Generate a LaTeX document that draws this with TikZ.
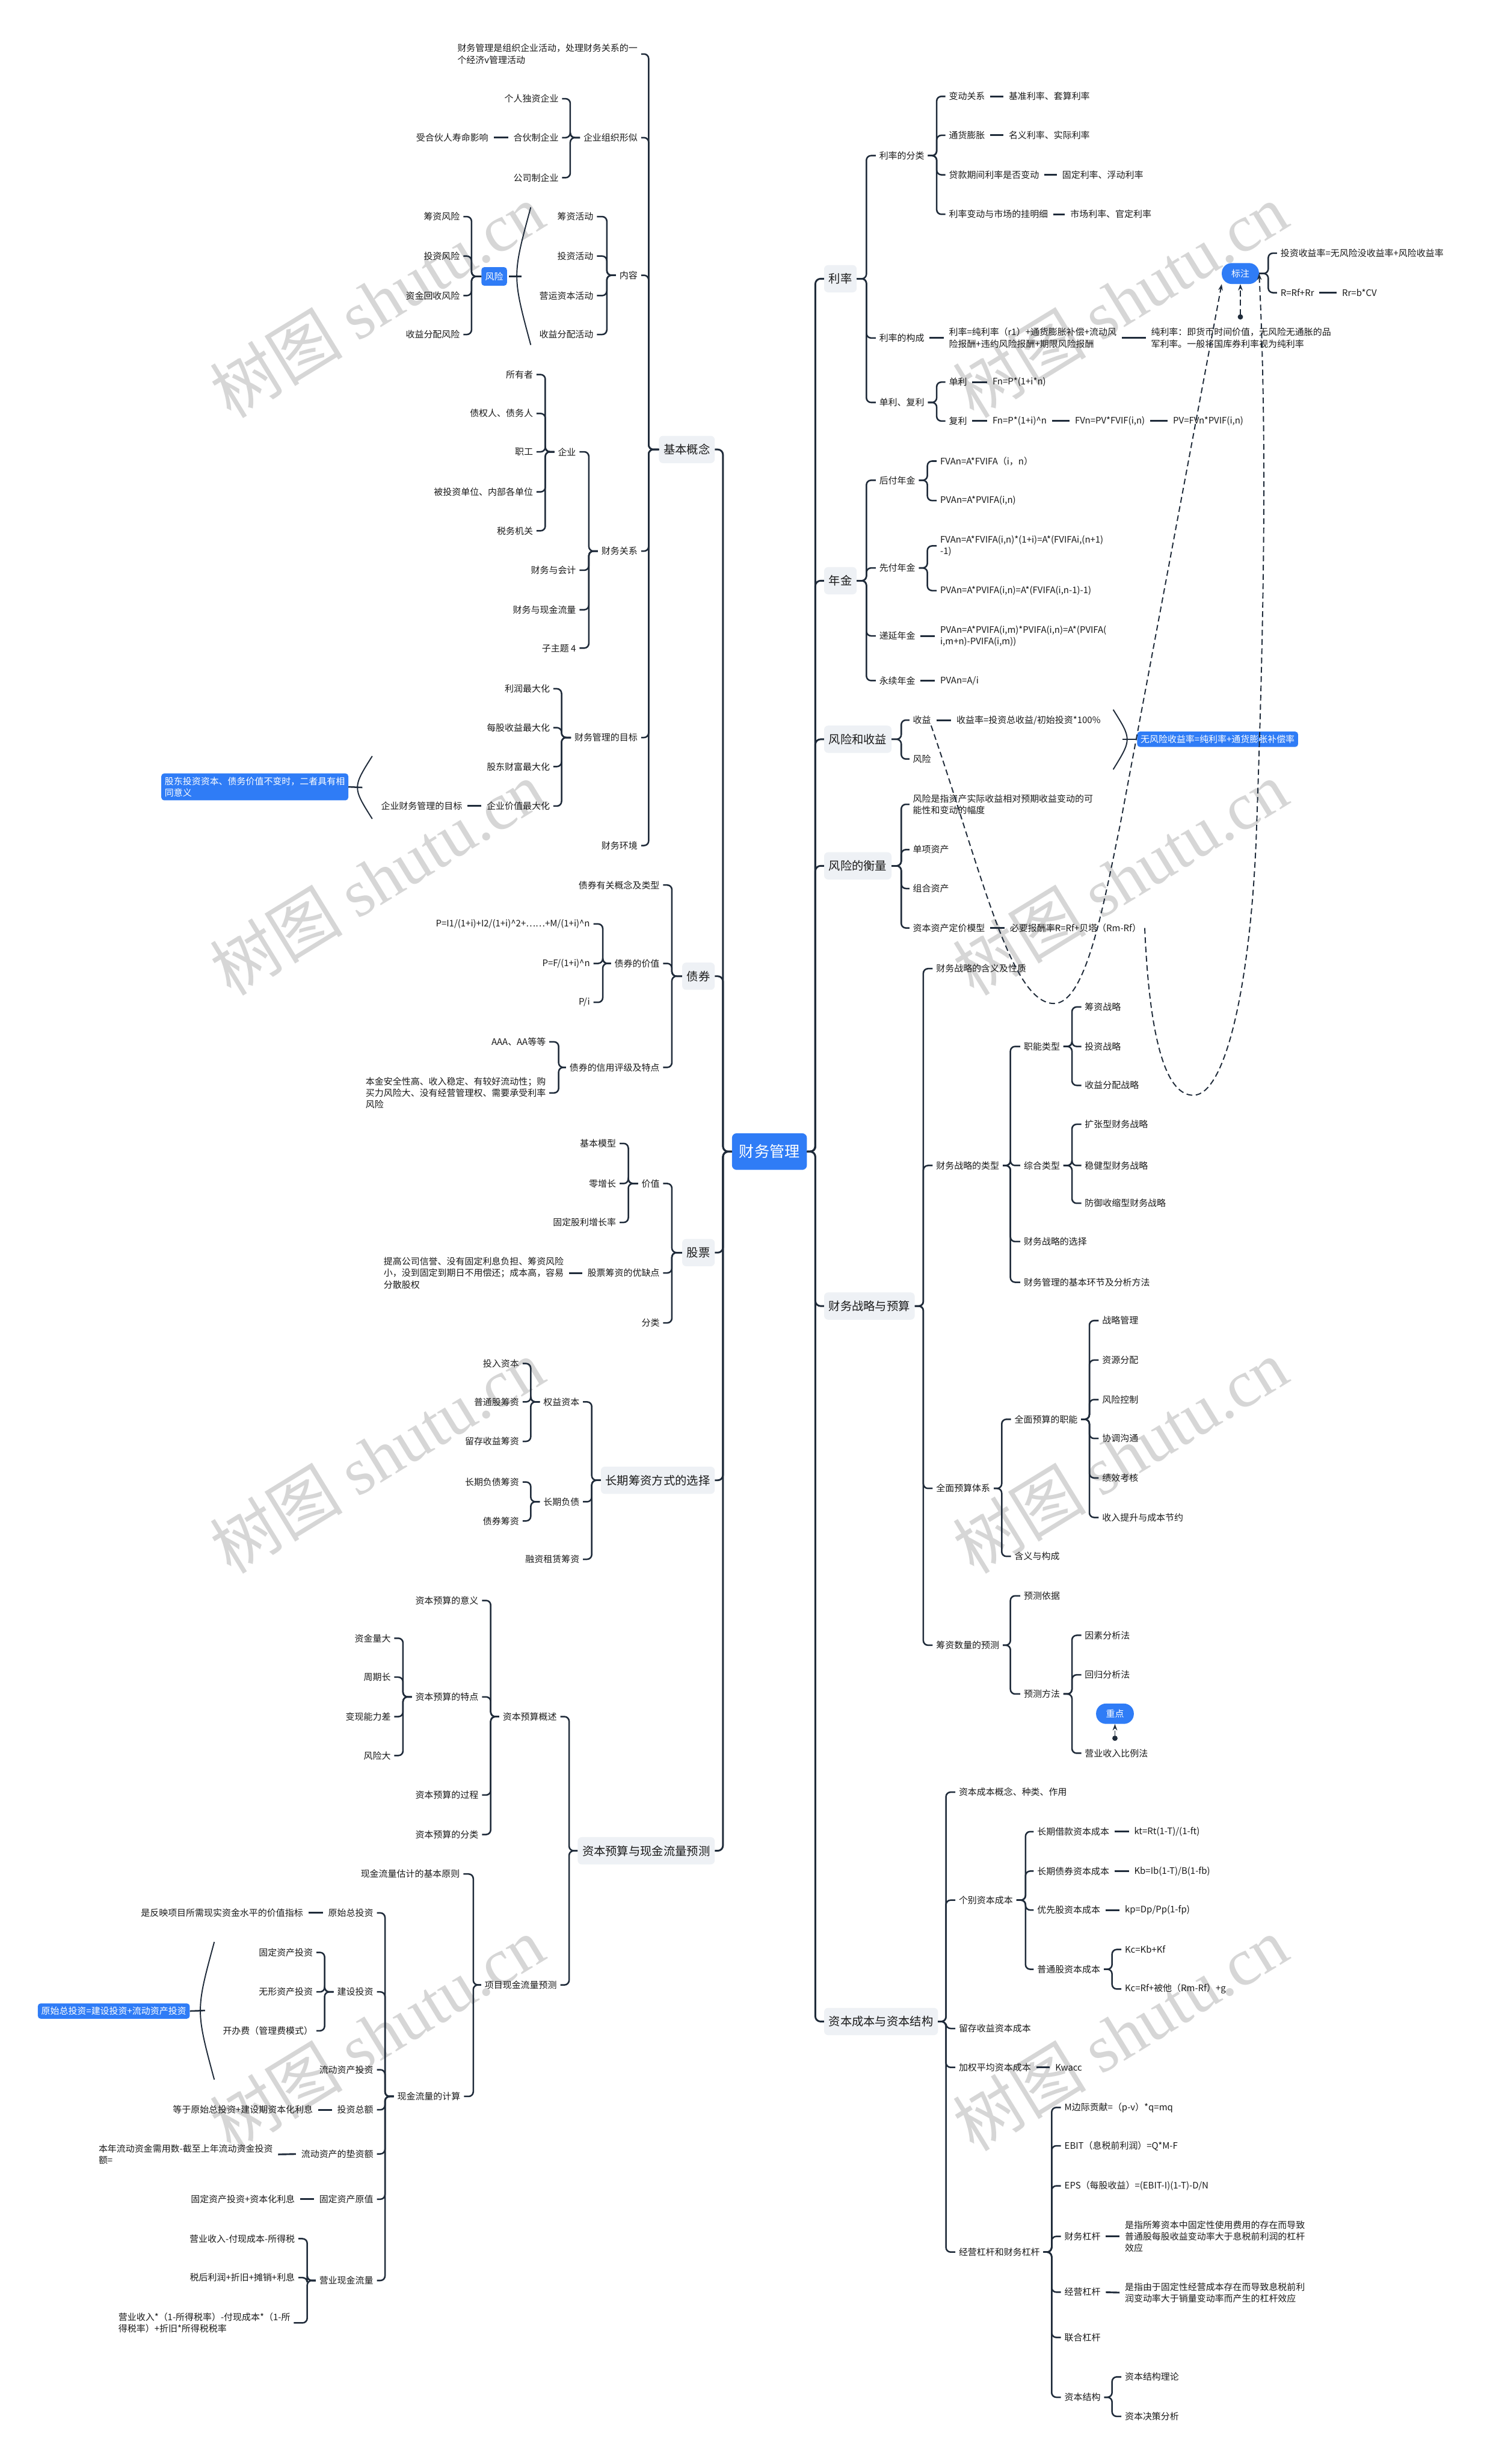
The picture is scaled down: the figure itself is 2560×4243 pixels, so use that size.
\documentclass[tikz,border=0pt]{standalone}
\usepackage{fontspec}
\setmainfont{Noto Sans CJK SC}
\newfontfamily\wmserif{Liberation Serif}
\usetikzlibrary{arrows.meta}
\definecolor{lc}{HTML}{1F2B3A}
\definecolor{tx}{HTML}{1A1A1A}
\definecolor{bl}{HTML}{2F7CF6}
\definecolor{mbf}{HTML}{EEF1F5}
\definecolor{wmc}{HTML}{D6D6D6}
\newcommand\fs{\fontsize{15.5}{20}\selectfont}
\newcommand\fm{\fontsize{20}{24}\selectfont}
\newcommand\fr{\fontsize{26}{30}\selectfont}
\tikzset{
 txt/.style={font=\fs, text=tx, inner xsep=0pt, inner ysep=2pt, align=left},
 lnode/.style={txt, anchor=east},
 rnode/.style={txt, anchor=west},
 mbox/.style={fill=mbf, rounded corners=7pt, font=\fm, text=tx, minimum height=47pt, inner xsep=8pt, inner ysep=0pt},
 mleft/.style={mbox, anchor=east},
 mright/.style={mbox, anchor=west},
 rootbox/.style={fill=bl, text=white, font=\fr, rounded corners=8pt, minimum height=63pt, minimum width=129pt},
 bluebox/.style={fill=bl, text=white, font=\fs, rounded corners=5pt, inner xsep=6pt, inner ysep=6pt, align=left},
 pill/.style={fill=bl, text=white, font=\fs, rounded corners=17pt, minimum height=36pt, minimum width=64pt, inner sep=0pt},
 conn/.style={draw=lc, line width=2.6pt, rounded corners=8pt, shorten <=6pt, shorten >=6pt},
 mconn/.style={draw=lc, line width=3pt, rounded corners=9pt},
 dlink/.style={draw=lc, line width=3pt, shorten <=9pt, shorten >=9pt},
 brk/.style={draw=lc, line width=2pt},
 rel/.style={draw=lc, line width=2pt, dash pattern=on 10pt off 6pt},
 wm/.style={font=\fontsize{115}{115}\selectfont, text=wmc, rotate=31.5},
}
\newcommand\fanL[4][]{\foreach \c in {#4}{\draw[conn,#1] (#2.west) -- (#2.west -| #3) |- (\c.east);}}
\newcommand\fanR[4][]{\foreach \c in {#4}{\draw[conn,#1] (#2.east) -- (#2.east -| #3) |- (\c.west);}}
\begin{document}
\begin{tikzpicture}[x=1pt,y=-1pt]
\fill[white] (0,0) rectangle (2560,4243);
\useasboundingbox (0,0) rectangle (2560,4243);
% watermarks
\foreach \yy in {517,1512,2507,3502}{
 \node[wm] (wl\yy) at (649,\yy) {树图 {\wmserif shutu.cn}};
 \node[wm] (wr\yy) at (1929,\yy) {树图 {\wmserif shutu.cn}};
}
% root and main branches
\node[rootbox] (root) at (1325,1983) {财务管理};
\node[mleft] (A) at (1231,774) {基本概念};
\node[mleft] (Bq) at (1231,1681) {债券};
\node[mleft] (Gp) at (1231,2157) {股票};
\node[mleft] (Cz) at (1231,2549) {长期筹资方式的选择};
\node[mleft] (Ky) at (1231,3187) {资本预算与现金流量预测};
\node[mright] (Ll) at (1419,480) {利率};
\node[mright] (Nj) at (1419,1000) {年金};
\node[mright] (Fs) at (1419,1273) {风险和收益};
\node[mright] (Fh) at (1419,1491) {风险的衡量};
\node[mright] (Zl) at (1419,2249) {财务战略与预算};
\node[mright] (Zb) at (1419,3481) {资本成本与资本结构};
\coordinate (SL) at (1245,0);
\coordinate (SR) at (1404,0);
\foreach \m in {A,Bq,Gp,Cz,Ky}{\draw[mconn] (root.west) -- (root.west -| SL) |- (\m.east);}
\foreach \m in {Ll,Nj,Fs,Fh,Zl,Zb}{\draw[mconn] (root.east) -- (root.east -| SR) |- (\m.west);}

% ===== 基本概念 =====
\coordinate (bA) at (1117,0);
\node[lnode] (a1) at (1098,93) {财务管理是组织企业活动，处理财务关系的一\\个经济v管理活动};
\node[lnode] (a2) at (1098,237) {企业组织形似};
\node[lnode] (a3) at (1098,474) {内容};
\node[lnode] (a4) at (1098,949) {财务关系};
\node[lnode] (a5) at (1098,1270) {财务管理的目标};
\node[lnode] (a6) at (1098,1456) {财务环境};
\fanL[shorten <=0pt]{A}{bA}{a1,a2,a3,a4,a5,a6}
\coordinate (ba2) at (982,0);
\node[lnode] (a21) at (962,170) {个人独资企业};
\node[lnode] (a22) at (962,237) {合伙制企业};
\node[lnode] (a23) at (962,306) {公司制企业};
\node[lnode] (a221) at (841,237) {受合伙人寿命影响};
\fanL{a2}{ba2}{a21,a22,a23}
\draw[dlink] (a22.west) -- (a221.east);
\coordinate (ba3) at (1045,0);
\node[lnode] (a31) at (1022,373) {筹资活动};
\node[lnode] (a32) at (1022,441) {投资活动};
\node[lnode] (a33) at (1022,509) {营运资本活动};
\node[lnode] (a34) at (1022,576) {收益分配活动};
\fanL{a3}{ba3}{a31,a32,a33,a34}
\draw[brk] (914,357) .. controls (882,475) .. (914,594);
\coordinate (k1) at (898,476);
\node[bluebox, minimum width=44pt, minimum height=32pt, inner sep=0pt] (fx) at (851,476) {风险};
\draw[conn, shorten <=0pt, shorten >=3pt] (k1) -- (fx.east);
\coordinate (bfx) at (812,0);
\node[lnode] (r1) at (792,373) {筹资风险};
\node[lnode] (r2) at (792,441) {投资风险};
\node[lnode] (r3) at (792,509) {资金回收风险};
\node[lnode] (r4) at (792,576) {收益分配风险};
\fanL[shorten <=0pt]{fx}{bfx}{r1,r2,r3,r4}
\coordinate (ba4) at (1014,0);
\node[lnode] (a41) at (992,778) {企业};
\node[lnode] (a42) at (992,982) {财务与会计};
\node[lnode] (a43) at (992,1050) {财务与现金流量};
\node[lnode] (a44) at (992,1116) {子主题 4};
\fanL{a4}{ba4}{a41,a42,a43,a44}
\coordinate (ba41) at (939,0);
\node[lnode] (e1) at (918,645) {所有者};
\node[lnode] (e2) at (918,712) {债权人、债务人};
\node[lnode] (e3) at (918,778) {职工};
\node[lnode] (e4) at (918,847) {被投资单位、内部各单位};
\node[lnode] (e5) at (918,914) {税务机关};
\fanL{a41}{ba41}{e1,e2,e3,e4,e5}
\coordinate (ba5) at (967,0);
\node[lnode] (m1) at (947,1186) {利润最大化};
\node[lnode] (m2) at (947,1253) {每股收益最大化};
\node[lnode] (m3) at (947,1320) {股东财富最大化};
\node[lnode] (m4) at (947,1388) {企业价值最大化};
\fanL{a5}{ba5}{m1,m2,m3,m4}
\node[lnode] (m41) at (796,1388) {企业财务管理的目标};
\draw[dlink] (m4.west) -- (m41.east);
\draw[brk] (641,1302) .. controls (607,1356) .. (641,1410);
\coordinate (k2) at (624,1356);
\node[bluebox, anchor=east] (bl1) at (600,1355) {股东投资资本、债务价值不变时，二者具有相\\同意义};
\draw[conn, shorten <=0pt, shorten >=0pt] (k2) -- (bl1.east);

% ===== 债券 =====
\coordinate (bBq) at (1157,0);
\node[lnode] (z1) at (1136,1524) {债券有关概念及类型};
\node[lnode] (z2) at (1136,1659) {债券的价值};
\node[lnode] (z3) at (1136,1838) {债券的信用评级及特点};
\fanL[shorten <=0pt]{Bq}{bBq}{z1,z2,z3}
\coordinate (bz2) at (1038,0);
\node[lnode] (z21) at (1016,1591) {P=I1/(1+i)+I2/(1+i)\textasciicircum 2+……+M/(1+i)\textasciicircum n};
\node[lnode] (z22) at (1016,1659) {P=F/(1+i)\textasciicircum n};
\node[lnode] (z23) at (1016,1726) {P/i};
\fanL{z2}{bz2}{z21,z22,z23}
\coordinate (bz3) at (962,0);
\node[lnode] (z31) at (940,1794) {AAA、AA等等};
\node[lnode] (z32) at (940,1882) {本金安全性高、收入稳定、有较好流动性；购\\买力风险大、没有经营管理权、需要承受利率\\风险};
\fanL{z3}{bz3}{z31,z32}

% ===== 股票 =====
\coordinate (bGp) at (1157,0);
\node[lnode] (g1) at (1136,2038) {价值};
\node[lnode] (g2) at (1136,2192) {股票筹资的优缺点};
\node[lnode] (g3) at (1136,2278) {分类};
\fanL[shorten <=0pt]{Gp}{bGp}{g1,g2,g3}
\coordinate (bg1) at (1082,0);
\node[lnode] (g11) at (1061,1969) {基本模型};
\node[lnode] (g12) at (1061,2038) {零增长};
\node[lnode] (g13) at (1061,2105) {固定股利增长率};
\fanL{g1}{bg1}{g11,g12,g13}
\node[lnode] (g21) at (971,2192) {提高公司信誉、没有固定利息负担、筹资风险\\小，没到固定到期日不用偿还；成本高，容易\\分散股权};
\draw[dlink] (g2.west) -- (g21.east);

% ===== 长期筹资方式的选择 =====
\coordinate (bCz) at (1019,0);
\node[lnode] (c1) at (998,2414) {权益资本};
\node[lnode] (c2) at (998,2586) {长期负债};
\node[lnode] (c3) at (998,2685) {融资租赁筹资};
\fanL[shorten <=0pt]{Cz}{bCz}{c1,c2,c3}
\coordinate (bc1) at (914,0);
\node[lnode] (c11) at (894,2348) {投入资本};
\node[lnode] (c12) at (894,2414) {普通股筹资};
\node[lnode] (c13) at (894,2482) {留存收益筹资};
\fanL{c1}{bc1}{c11,c12,c13}
\coordinate (bc2) at (914,0);
\node[lnode] (c21) at (894,2552) {长期负债筹资};
\node[lnode] (c22) at (894,2619) {债券筹资};
\fanL{c2}{bc2}{c21,c22}

% ===== 资本预算与现金流量预测 =====
\coordinate (bKy) at (980,0);
\node[lnode] (k1n) at (959,2956) {资本预算概述};
\node[lnode] (k2n) at (959,3418) {项目现金流量预测};
\fanL[shorten <=0pt]{Ky}{bKy}{k1n,k2n}
\coordinate (bk1) at (845,0);
\node[lnode] (k11) at (824,2756) {资本预算的意义};
\node[lnode] (k12) at (824,2922) {资本预算的特点};
\node[lnode] (k13) at (824,3091) {资本预算的过程};
\node[lnode] (k14) at (824,3159) {资本预算的分类};
\fanL{k1n}{bk1}{k11,k12,k13,k14}
\coordinate (bk12) at (694,0);
\node[lnode] (q1) at (673,2821) {资金量大};
\node[lnode] (q2) at (673,2888) {周期长};
\node[lnode] (q3) at (673,2956) {变现能力差};
\node[lnode] (q4) at (673,3023) {风险大};
\fanL{k12}{bk12}{q1,q2,q3,q4}
\coordinate (bk2) at (815,0);
\node[lnode] (k21) at (792,3227) {现金流量估计的基本原则};
\node[lnode] (k22) at (793,3610) {现金流量的计算};
\fanL{k2n}{bk2}{k21,k22}
\coordinate (bk22) at (663,0);
\node[lnode] (p1) at (643,3294) {原始总投资};
\node[lnode] (p2) at (643,3430) {建设投资};
\node[lnode] (p3) at (643,3564) {流动资产投资};
\node[lnode] (p4) at (643,3633) {投资总额};
\node[lnode] (p5) at (643,3709) {流动资产的垫资额};
\node[lnode] (p6) at (643,3787) {固定资产原值};
\node[lnode] (p7) at (643,3927) {营业现金流量};
\fanL{k22}{bk22}{p1,p2,p3,p4,p5,p6,p7}
\node[lnode] (p11) at (522,3294) {是反映项目所需现实资金水平的价值指标};
\draw[dlink] (p1.west) -- (p11.east);
\coordinate (bp2) at (559,0);
\node[lnode] (p21) at (539,3362) {固定资产投资};
\node[lnode] (p22) at (539,3430) {无形资产投资};
\node[lnode] (p23) at (539,3497) {开办费（管理费模式）};
\fanL{p2}{bp2}{p21,p22,p23}
\draw[brk] (369,3344) .. controls (337,3462) .. (369,3581);
\coordinate (k3) at (353,3462);
\node[bluebox, anchor=east] (bl3) at (327,3463) {原始总投资=建设投资+流动资产投资};
\draw[conn, shorten <=0pt, shorten >=0pt] (k3) -- (bl3.east);
\node[lnode] (p41) at (539,3633) {等于原始总投资+建设期资本化利息};
\draw[dlink] (p4.west) -- (p41.east);
\node[lnode] (p51) at (470,3710) {本年流动资金需用数-截至上年流动资金投资\\额=};
\draw[dlink] (p5.west) -- (p51.east);
\node[lnode] (p61) at (508,3787) {固定资产投资+资本化利息};
\draw[dlink] (p6.west) -- (p61.east);
\coordinate (bp7) at (529,0);
\node[lnode] (p71) at (508,3855) {营业收入-付现成本-所得税};
\node[lnode] (p72) at (508,3922) {税后利润+折旧+摊销+利息};
\node[lnode] (p73) at (500,4000) {营业收入*（1-所得税率）-付现成本*（1-所\\得税率）+折旧*所得税税率};
\fanL{p7}{bp7}{p71,p72,p73}

% ===== 利率 =====
\coordinate (bLl) at (1492,0);
\node[rnode] (l1) at (1514,268) {利率的分类};
\node[rnode] (l2) at (1514,582) {利率的构成};
\node[rnode] (l3) at (1514,693) {单利、复利};
\fanR[shorten <=0pt]{Ll}{bLl}{l1,l2,l3}
\coordinate (bl1c) at (1613,0);
\node[rnode] (l11) at (1634,166) {变动关系};
\node[rnode] (l12) at (1634,233) {通货膨胀};
\node[rnode] (l13) at (1634,301) {贷款期间利率是否变动};
\node[rnode] (l14) at (1634,369) {利率变动与市场的挂明细};
\fanR{l1}{bl1c}{l11,l12,l13,l14}
\node[rnode] (l111) at (1737,166) {基准利率、套算利率};
\node[rnode] (l121) at (1737,233) {名义利率、实际利率};
\node[rnode] (l131) at (1829,301) {固定利率、浮动利率};
\node[rnode] (l141) at (1843,369) {市场利率、官定利率};
\draw[dlink] (l11.east) -- (l111.west);
\draw[dlink] (l12.east) -- (l121.west);
\draw[dlink] (l13.east) -- (l131.west);
\draw[dlink] (l14.east) -- (l141.west);
\node[rnode] (l21) at (1634,582) {利率=纯利率（r1）+通货膨胀补偿+流动风\\险报酬+违约风险报酬+期限风险报酬};
\node[rnode] (l22) at (1982,582) {纯利率：即货币时间价值，无风险无通胀的品\\军利率。一般将国库券利率视为纯利率};
\draw[dlink] (l2.east) -- (l21.west);
\draw[dlink] (l21.east) -- (l22.west);
\coordinate (bl3c) at (1613,0);
\node[rnode] (l31) at (1634,658) {单利};
\node[rnode] (l32) at (1634,725) {复利};
\fanR{l3}{bl3c}{l31,l32}
\node[rnode] (l311) at (1709,658) {Fn=P*(1+i*n)};
\node[rnode] (l321) at (1709,725) {Fn=P*(1+i)\textasciicircum n};
\node[rnode] (l322) at (1851,725) {FVn=PV*FVIF(i,n)};
\node[rnode] (l323) at (2020,725) {PV=FVn*PVIF(i,n)};
\draw[dlink] (l31.east) -- (l311.west);
\draw[dlink] (l32.east) -- (l321.west);
\draw[dlink] (l321.east) -- (l322.west);
\draw[dlink] (l322.east) -- (l323.west);
\node[pill] (bz) at (2136,471) {标注};
\coordinate (bbz) at (2184,0);
\node[rnode] (bz1) at (2205,436) {投资收益率=无风险没收益率+风险收益率};
\node[rnode] (bz2) at (2205,504) {R=Rf+Rr};
\node[rnode] (bz21) at (2311,504) {Rr=b*CV};
\fanR[shorten <=0pt]{bz}{bbz}{bz1,bz2}
\draw[dlink] (bz2.east) -- (bz21.west);

% ===== 年金 =====
\coordinate (bNj) at (1492,0);
\node[rnode] (n1) at (1514,827) {后付年金};
\node[rnode] (n2) at (1514,978) {先付年金};
\node[rnode] (n3) at (1514,1095) {递延年金};
\node[rnode] (n4) at (1514,1172) {永续年金};
\fanR[shorten <=0pt]{Nj}{bNj}{n1,n2,n3,n4}
\coordinate (bn) at (1597,0);
\node[rnode] (n11) at (1619,794) {FVAn=A*FVIFA（i，n）};
\node[rnode] (n12) at (1619,862) {PVAn=A*PVIFA(i,n)};
\fanR{n1}{bn}{n11,n12}
\node[rnode] (n21) at (1619,940) {FVAn=A*FVIFA(i,n)*(1+i)=A*(FVIFAi,(n+1)\\-1)};
\node[rnode] (n22) at (1619,1017) {PVAn=A*PVIFA(i,n)=A*(FVIFA(i,n-1)-1)};
\fanR{n2}{bn}{n21,n22}
\node[rnode] (n31) at (1619,1095) {PVAn=A*PVIFA(i,m)*PVIFA(i,n)=A*(PVIFA(\\i,m+n)-PVIFA(i,m))};
\draw[dlink] (n3.east) -- (n31.west);
\node[rnode] (n41) at (1619,1172) {PVAn=A/i};
\draw[dlink] (n4.east) -- (n41.west);

% ===== 风险和收益 =====
\coordinate (bFs) at (1552,0);
\node[rnode] (f1) at (1572,1240) {收益};
\node[rnode] (f2) at (1572,1307) {风险};
\fanR[shorten <=0pt]{Fs}{bFs}{f1,f2}
\node[rnode] (f11) at (1647,1240) {收益率=投资总收益/初始投资*100\%};
\draw[dlink] (f1.east) -- (f11.west);
\draw[brk] (1917,1222) .. controls (1949,1273) .. (1917,1325);
\coordinate (k4) at (1933,1273);
\node[bluebox, anchor=west] (bl2) at (1958,1273) {无风险收益率=纯利率+通货膨胀补偿率};
\draw[conn, shorten <=0pt, shorten >=0pt] (k4) -- (bl2.west);

% ===== 风险的衡量 =====
\coordinate (bFh) at (1552,0);
\node[rnode] (h1) at (1572,1385) {风险是指资产实际收益相对预期收益变动的可\\能性和变动的幅度};
\node[rnode] (h2) at (1572,1463) {单项资产};
\node[rnode] (h3) at (1572,1530) {组合资产};
\node[rnode] (h4) at (1572,1598) {资本资产定价模型};
\fanR[shorten <=0pt]{Fh}{bFh}{h1,h2,h3,h4}
\node[rnode] (h41) at (1739,1598) {必要报酬率R=Rf+贝塔（Rm-Rf）};
\draw[dlink] (h4.east) -- (h41.west);

% ===== 财务战略与预算 =====
\coordinate (bZl) at (1590,0);
\node[rnode] (s1) at (1612,1668) {财务战略的含义及性质};
\node[rnode] (s2) at (1612,2007) {财务战略的类型};
\node[rnode] (s3) at (1612,2563) {全面预算体系};
\node[rnode] (s4) at (1612,2833) {筹资数量的预测};
\fanR[shorten <=0pt]{Zl}{bZl}{s1,s2,s3,s4}
\coordinate (bs2) at (1740,0);
\node[rnode] (s21) at (1763,1802) {职能类型};
\node[rnode] (s22) at (1763,2007) {综合类型};
\node[rnode] (s23) at (1763,2138) {财务战略的选择};
\node[rnode] (s24) at (1763,2208) {财务管理的基本环节及分析方法};
\fanR{s2}{bs2}{s21,s22,s23,s24}
\coordinate (bs21) at (1846,0);
\node[rnode] (s211) at (1868,1734) {筹资战略};
\node[rnode] (s212) at (1868,1802) {投资战略};
\node[rnode] (s213) at (1868,1869) {收益分配战略};
\fanR{s21}{bs21}{s211,s212,s213}
\node[rnode] (s221) at (1868,1936) {扩张型财务战略};
\node[rnode] (s222) at (1868,2007) {稳健型财务战略};
\node[rnode] (s223) at (1868,2072) {防御收缩型财务战略};
\fanR{s22}{bs21}{s221,s222,s223}
\coordinate (bs3) at (1725,0);
\node[rnode] (s31) at (1747,2444) {全面预算的职能};
\node[rnode] (s32) at (1747,2680) {含义与构成};
\fanR{s3}{bs3}{s31,s32}
\coordinate (bs31) at (1876,0);
\node[rnode] (s311) at (1898,2274) {战略管理};
\node[rnode] (s312) at (1898,2342) {资源分配};
\node[rnode] (s313) at (1898,2410) {风险控制};
\node[rnode] (s314) at (1898,2477) {协调沟通};
\node[rnode] (s315) at (1898,2545) {绩效考核};
\node[rnode] (s316) at (1898,2613) {收入提升与成本节约};
\fanR{s31}{bs31}{s311,s312,s313,s314,s315,s316}
\coordinate (bs4) at (1740,0);
\node[rnode] (s41) at (1763,2748) {预测依据};
\node[rnode] (s42) at (1763,2917) {预测方法};
\fanR{s4}{bs4}{s41,s42}
\coordinate (bs42) at (1846,0);
\node[rnode] (s421) at (1868,2816) {因素分析法};
\node[rnode] (s422) at (1868,2884) {回归分析法};
\node[rnode] (s423) at (1868,3019) {营业收入比例法};
\fanR{s42}{bs42}{s421,s422,s423}
\node[pill, minimum width=65pt, minimum height=35pt] (zd) at (1920,2951) {重点};

% ===== 资本成本与资本结构 =====
\coordinate (bZb) at (1629,0);
\node[rnode] (t1) at (1651,3086) {资本成本概念、种类、作用};
\node[rnode] (t2) at (1651,3272) {个别资本成本};
\node[rnode] (t3) at (1651,3493) {留存收益资本成本};
\node[rnode] (t4) at (1651,3560) {加权平均资本成本};
\node[rnode] (t5) at (1651,3878) {经营杠杆和财务杠杆};
\fanR[shorten <=0pt]{Zb}{bZb}{t1,t2,t3,t4,t5}
\coordinate (bt2) at (1766,0);
\node[rnode] (t21) at (1786,3154) {长期借款资本成本};
\node[rnode] (t22) at (1786,3222) {长期债券资本成本};
\node[rnode] (t23) at (1786,3289) {优先股资本成本};
\node[rnode] (t24) at (1786,3391) {普通股资本成本};
\fanR{t2}{bt2}{t21,t22,t23,t24}
\node[rnode] (t211) at (1953,3154) {kt=Rt(1-T)/(1-ft)};
\node[rnode] (t221) at (1953,3222) {Kb=Ib(1-T)/B(1-fb)};
\node[rnode] (t231) at (1937,3289) {kp=Dp/Pp(1-fp)};
\draw[dlink] (t21.east) -- (t211.west);
\draw[dlink] (t22.east) -- (t221.west);
\draw[dlink] (t23.east) -- (t231.west);
\coordinate (bt24) at (1915,0);
\node[rnode] (t241) at (1937,3357) {Kc=Kb+Kf};
\node[rnode] (t242) at (1937,3425) {Kc=Rf+被他（Rm-Rf）+g};
\fanR{t24}{bt24}{t241,t242}
\node[rnode] (t41) at (1817,3560) {Kwacc};
\draw[dlink] (t4.east) -- (t41.west);
\coordinate (bt5) at (1811,0);
\node[rnode] (t51) at (1833,3629) {M边际贡献=（p-v）*q=mq};
\node[rnode] (t52) at (1833,3695) {EBIT（息税前利润）=Q*M-F};
\node[rnode] (t53) at (1833,3764) {EPS（每股收益）=(EBIT-I)(1-T)-D/N};
\node[rnode] (t54) at (1833,3851) {财务杠杆};
\node[rnode] (t55) at (1833,3947) {经营杠杆};
\node[rnode] (t56) at (1833,4025) {联合杠杆};
\node[rnode] (t57) at (1833,4128) {资本结构};
\fanR{t5}{bt5}{t51,t52,t53,t54,t55,t56,t57}
\node[rnode] (t541) at (1937,3851) {是指所筹资本中固定性使用费用的存在而导致\\普通股每股收益变动率大于息税前利润的杠杆\\效应};
\node[rnode] (t551) at (1937,3948) {是指由于固定性经营成本存在而导致息税前利\\润变动率大于销量变动率而产生的杠杆效应};
\draw[dlink] (t54.east) -- (t541.west);
\draw[dlink] (t55.east) -- (t551.west);
\coordinate (bt57) at (1915,0);
\node[rnode] (t571) at (1937,4093) {资本结构理论};
\node[rnode] (t572) at (1937,4161) {资本决策分析};
\fanR{t57}{bt57}{t571,t572}

% ===== relationships =====
\draw[rel, -{Stealth[length=11pt,width=8pt]}] (f1.south east) .. controls (1690,1500) and (1740,1728) .. (1815,1728) .. controls (1870,1728) and (1900,1560) .. (1929,1420) -- (bz.south west);
\draw[rel, -{Stealth[length=11pt,width=8pt]}] ([xshift=6pt]h41.east) .. controls (1980,1800) and (2010,1886) .. (2055,1886) .. controls (2110,1886) and (2152,1700) .. (2163,1450) .. controls (2172,1200) and (2185,800) .. (bz.east);
\draw[rel, {Circle[length=9pt]}-{Stealth[length=11pt,width=8pt]}] ([yshift=-61pt]bz.south) -- (bz.south);
\draw[rel, {Circle[length=9pt]}-{Stealth[length=11pt,width=8pt]}] ([yshift=-29pt]zd.south) -- (zd.south);
\end{tikzpicture}
\end{document}
